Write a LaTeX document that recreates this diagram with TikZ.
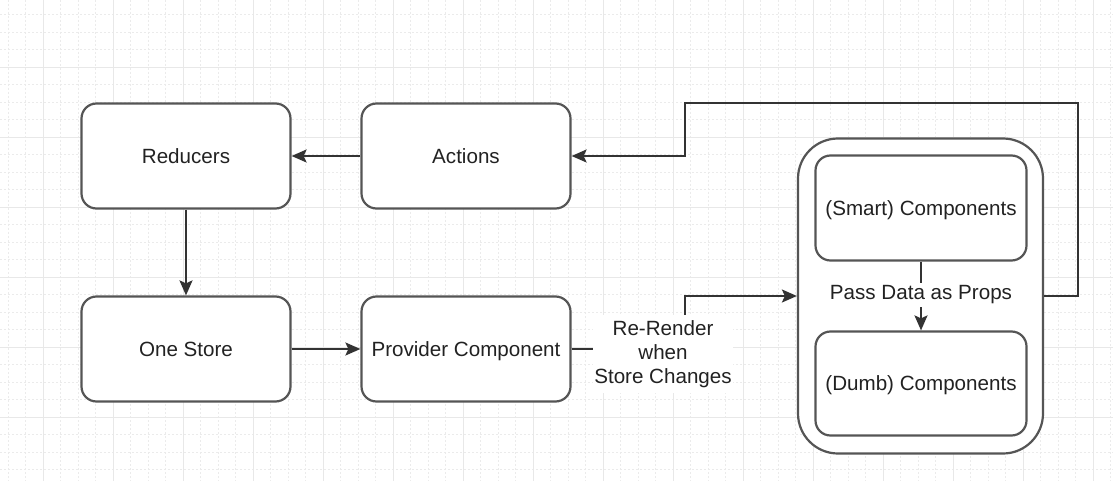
\documentclass[tikz,border=0pt]{standalone}
\usepackage{fontspec}
\setmainfont{Liberation Sans}
\usetikzlibrary{arrows.meta}
\definecolor{boxline}{HTML}{555555}
\definecolor{conline}{HTML}{333333}
\definecolor{txt}{HTML}{222222}
\tikzset{
  box/.style={draw=boxline, line width=2.2pt, fill=white, rounded corners=15pt,
    minimum width=209pt, minimum height=105pt, text=txt, text depth=0pt,
    font=\fontsize{20.6}{24}\selectfont},
  conn/.style={draw=conline, line width=2pt},
  arr/.style={conn, -{Stealth[length=15pt,width=13pt,inset=3pt]}},
  lbl/.style={fill=white, text=txt, inner xsep=1pt, inner ysep=5pt, align=center,
    font=\fontsize{20.6}{24}\selectfont},
  minorgrid/.style={draw=black!8, line width=0.7pt, dash pattern=on 2pt off 2pt},
  majorgrid/.style={draw=black!9, line width=0.9pt}
}
\begin{document}
\begin{tikzpicture}[x=1pt,y=-1pt]
\useasboundingbox (0,0) rectangle (1113,481);
\fill[white] (0,0) rectangle (1113,481);
% grid
\foreach \i in {0,...,63} { \draw[minorgrid] ({8+17.5*\i},0) -- ({8+17.5*\i},481); }
\foreach \j in {0,...,27} { \draw[minorgrid] (0,{14.5+17.5*\j}) -- (1113,{14.5+17.5*\j}); }
\foreach \i in {0,...,15} { \draw[majorgrid] ({43+70*\i},0) -- ({43+70*\i},481); }
\foreach \j in {0,...,5} { \draw[majorgrid] (0,{67+70*\j}) -- (1113,{67+70*\j}); }
% boxes
\node[box] (red) at (186,156) {Reducers};
\node[box] (act) at (466,156) {Actions};
\node[box] (store) at (186,349) {One Store};
\node[box] (prov) at (466,349) {Provider Component};
\node[box, rounded corners=40pt, minimum width=245pt, minimum height=315pt] (outer) at (920.5,296) {};
\node[box, minimum width=211pt] (smart) at (921,208) {(Smart) Components};
\node[box, minimum width=211pt, minimum height=104pt] (dumb) at (921,383.5) {(Dumb) Components};
% connectors
\draw[arr] (act.west) -- (red.east);
\draw[arr] (red.south) -- (store.north);
\draw[arr] (store.east) -- (prov.east -| act.west);
\coordinate (rrtop) at (685,296);
\draw[arr] (prov.east) -| (rrtop) -- (rrtop -| outer.west);
\node[lbl] (rrlbl) at (663,354) {Re-Render\\when\\Store Changes};
\coordinate (fbr) at (1078,103);
\coordinate (fbl) at (685,103);
\draw[arr] (outer.east) -| (fbr) -- (fbl) |- (act.east);
\draw[arr] (smart.south) -- (dumb.north);
\node[lbl, inner ysep=3pt] (pass) at (921,295) {Pass Data as Props};
\end{tikzpicture}
\end{document}
